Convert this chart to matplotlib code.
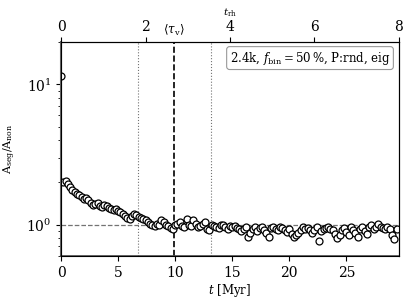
import numpy as np
import matplotlib
matplotlib.use("Agg")
from matplotlib import pyplot as plt

plt.rcParams['font.family'] = 'DejaVu Serif'
plt.rcParams['mathtext.fontset'] = 'dejavuserif'

# time grid [Myr] and measured A_seg/A_non
t = np.arange(148) * 0.2
ratio = [11.4, 2.02, 2.05, 1.95, 1.86, 1.78, 1.72, 1.66, 1.62, 1.58,
         1.52, 1.55, 1.50, 1.42, 1.38, 1.40, 1.44, 1.36, 1.34, 1.38,
         1.36, 1.32, 1.30, 1.28, 1.30, 1.26, 1.24, 1.20, 1.16, 1.12,
         1.10, 1.16, 1.20, 1.18, 1.14, 1.12, 1.10, 1.08, 1.04, 1.02,
         1.00, 0.98, 1.02, 1.00, 1.08, 1.04, 1.00, 0.98, 0.95, 0.93,
         1.00, 1.02, 1.04, 0.98, 0.96, 1.10, 1.00, 0.98, 1.08, 1.02,
         0.96, 0.98, 1.02, 1.05, 0.94, 0.92, 1.00, 0.98, 0.96, 0.95,
         0.99, 1.00, 0.96, 0.93, 0.98, 0.96, 0.98, 0.95, 0.93, 0.90,
         0.94, 0.96, 0.82, 0.88, 0.93, 0.96, 0.90, 0.95, 0.97, 0.92,
         0.88, 0.82, 0.95, 0.97, 0.94, 0.92, 0.97, 0.95, 0.91, 0.89,
         0.94, 0.86, 0.82, 0.85, 0.88, 0.92, 0.96, 0.93, 0.95, 0.91,
         0.88, 0.92, 0.96, 0.77, 0.90, 0.93, 0.95, 0.97, 0.94, 0.91,
         0.86, 0.80, 0.84, 0.92, 0.95, 0.89, 0.84, 0.96, 0.92, 0.88,
         0.82, 0.93, 0.96, 0.90, 0.86, 0.97, 0.99, 0.94, 0.96, 1.01,
         0.97, 0.95, 0.93, 0.96, 0.94, 0.85, 0.79, 0.94]

t_rh = 3.7          # Myr per half-mass relaxation time
tau_v = 9.9         # mean violent-relaxation time
tau_lo, tau_hi = 6.7, 13.1
trh_ticks = [0, 2, 4, 6, 8]

fig = plt.figure(figsize=(4.07, 3.05), dpi=100)
ax = fig.add_axes([0.150, 0.161, 0.830, 0.701])

ax.plot(t, ratio, 'o', mfc='white', mec='black', ms=5.0, mew=0.9, zorder=3)
ax.axhline(1.0, color='0.45', ls='--', lw=0.9, zorder=1)
ax.axvline(tau_v, color='black', ls='--', lw=1.2, zorder=2)
ax.axvline(tau_lo, color='0.45', ls=':', lw=0.8, zorder=1)
ax.axvline(tau_hi, color='0.45', ls=':', lw=0.8, zorder=1)

ax.set_yscale('log')
ax.set_xlim(0, 8 * t_rh)
ax.set_ylim(0.6, 20)
ax.set_xticks([0, 5, 10, 15, 20, 25])
ax.tick_params(labelsize=10)
ax.set_xlabel(r'$t$ [Myr]', fontsize=8.5, labelpad=2)
ax.set_ylabel(r'$\mathrm{A_{seg}/A_{non}}$', fontsize=8)
ax.yaxis.set_label_coords(-0.127, 0.5)
ax.spines['left'].set_color('0.4')
ax.spines['left'].set_linewidth(1.5)
ax.spines['bottom'].set_color('0.3')
ax.spines['bottom'].set_linewidth(1.2)

top = ax.twiny()
top.set_xlim(0, 8)
top.set_xticks(trh_ticks)
top.tick_params(labelsize=10, pad=2)
top.set_xlabel(r'$t_{\rm rh}$', fontsize=7.5, labelpad=0)
top.xaxis.set_label_coords(0.5, 1.125)
top.text(tau_v / t_rh, 1.018, r'$\langle\tau_{\rm v}\rangle$', transform=top.get_xaxis_transform(),
         ha='center', va='bottom', fontsize=8.5)

ax.text(0.975, 0.965, r'2.4k, $f_{\rm bin}=50\,\%$, P:rnd, eig', transform=ax.transAxes,
        ha='right', va='top', fontsize=8.5,
        bbox=dict(boxstyle='round,pad=0.25', fc='white', ec='0.6', lw=0.8))

fig.savefig('out.png', dpi=100)
